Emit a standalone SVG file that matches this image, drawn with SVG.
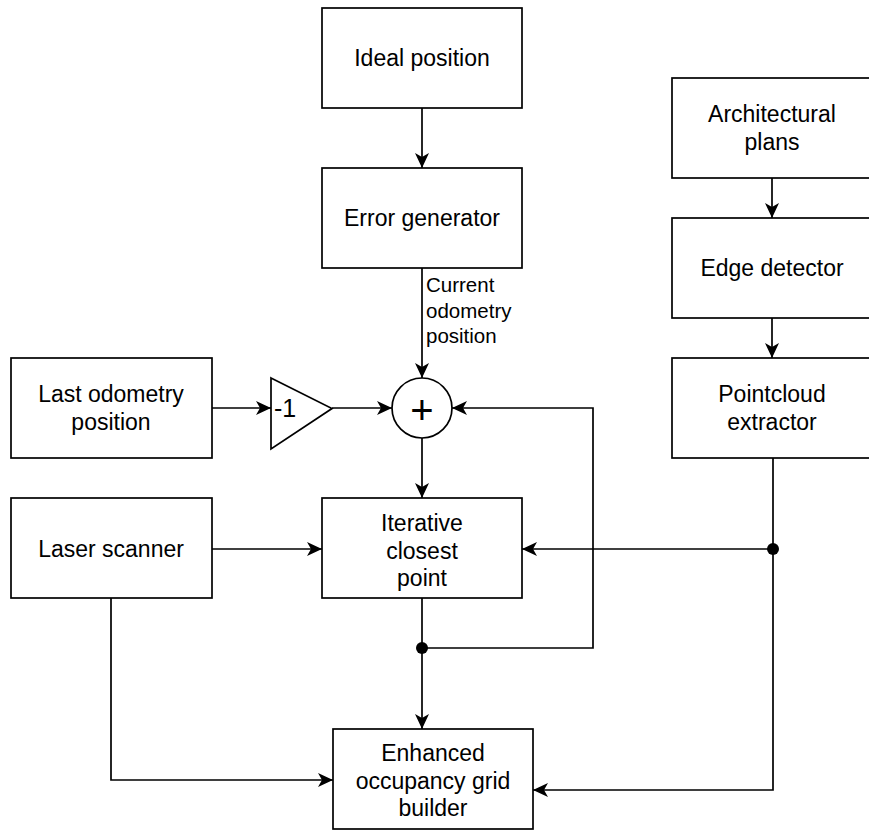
<svg xmlns="http://www.w3.org/2000/svg" width="869" height="830" viewBox="0 0 869 830">
<style>
.box{fill:#fff;stroke:#000;stroke-width:1.7}
.t{font-family:"Liberation Sans",Helvetica,Arial,sans-serif;font-size:23px;fill:#000;text-anchor:middle}
.lbl{font-family:"Liberation Sans",Helvetica,Arial,sans-serif;font-size:20.5px;fill:#000}
.e{fill:none;stroke:#000;stroke-width:1.7}
.a{marker-end:url(#arr)}
</style>
<defs>
<marker id="arr" markerWidth="16" markerHeight="14" refX="15" refY="7" orient="auto" markerUnits="userSpaceOnUse">
<path d="M0,0 L15,7 L0,14 L4,7 Z" fill="#000"/>
</marker>
</defs>
<rect width="869" height="830" fill="#fff"/>
<g id="connectors">
<path class="e a" d="M422,108 V168"/>
<path class="e a" d="M772,178 V218"/>
<path class="e a" d="M772,318 V358"/>
<path class="e a" d="M212,408 H271"/>
<path class="e a" d="M332,408 H392"/>
<path class="e a" d="M422,268 V378"/>
<path class="e a" d="M422,438 V498"/>
<path class="e a" d="M212,549 H322"/>
<path class="e a" d="M773,549 H522"/>
<path class="e a" d="M773,458 V790 H533"/>
<path class="e a" d="M422,598 V729"/>
<path class="e a" d="M422,648 H593 V408 H452"/>
<path class="e a" d="M111,598 V780 H333"/>
<circle cx="773" cy="549" r="6" fill="#000"/>
<circle cx="422" cy="648" r="6" fill="#000"/>
<text class="lbl" x="426" y="292">Current</text>
<text class="lbl" x="426" y="317.5">odometry</text>
<text class="lbl" x="426" y="343">position</text>
</g>
<g id="ideal"><rect class="box" x="322" y="8" width="200" height="100"/><text class="t" x="422" y="66">Ideal position</text></g>
<g id="error"><rect class="box" x="322" y="168" width="200" height="100"/><text class="t" x="422" y="226">Error generator</text></g>
<g id="arch"><rect class="box" x="672" y="78" width="200" height="100"/><text class="t" x="772" y="122">Architectural</text><text class="t" x="772" y="150">plans</text></g>
<g id="edge"><rect class="box" x="672" y="218" width="200" height="100"/><text class="t" x="772" y="276">Edge detector</text></g>
<g id="pointcloud"><rect class="box" x="672" y="358" width="200" height="100"/><text class="t" x="772" y="402">Pointcloud</text><text class="t" x="772" y="430">extractor</text></g>
<g id="lastodo"><rect class="box" x="11" y="358" width="201" height="100"/><text class="t" x="111" y="402">Last odometry</text><text class="t" x="111" y="430">position</text></g>
<g id="gain"><path class="box" d="M271,378 L332,408.5 L271,449 Z"/><text class="t" x="285" y="417" style="font-size:25px">-1</text></g>
<g id="sum"><circle class="box" cx="422" cy="408" r="30"/><text class="t" x="422" y="424" style="font-size:40px">+</text></g>
<g id="laser"><rect class="box" x="11" y="498" width="201" height="100"/><text class="t" x="111" y="557">Laser scanner</text></g>
<g id="icp"><rect class="box" x="322" y="498" width="200" height="100"/><text class="t" x="422" y="531">Iterative</text><text class="t" x="422" y="558.5">closest</text><text class="t" x="422" y="586">point</text></g>
<g id="grid"><rect class="box" x="333" y="729" width="200" height="100"/><text class="t" x="433" y="761">Enhanced</text><text class="t" x="433" y="788.5">occupancy grid</text><text class="t" x="433" y="816">builder</text></g>
</svg>
